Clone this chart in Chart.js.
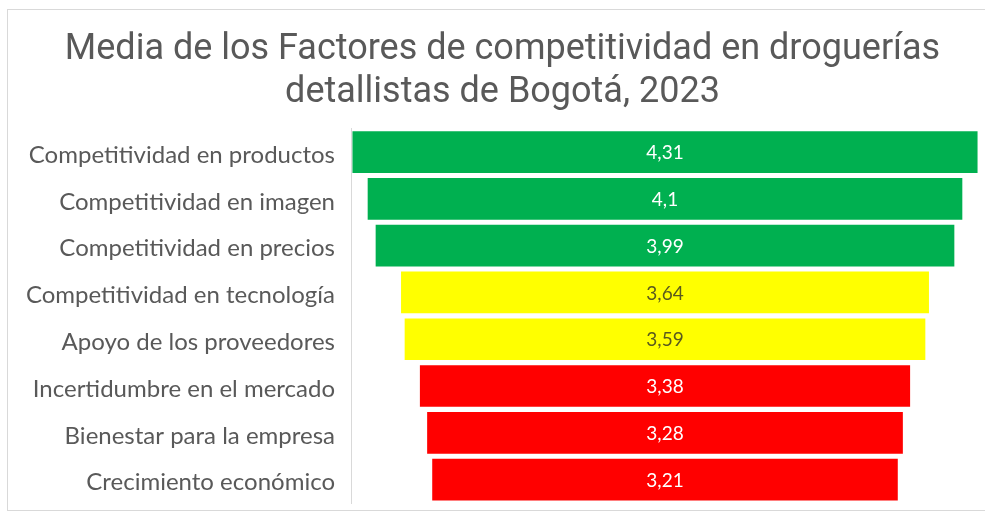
<!DOCTYPE html>
<html lang="es">
<head>
  <meta charset="UTF-8">
  <title>Factores de competitividad - droguerías Bogotá 2023</title>
  <style>
    body {
      margin: 0;
      background: #ffffff;
    }
    .frame {
      position: absolute;
      left: 7px;
      top: 9px;
      width: 990px;
      height: 500px;
      border: 1px solid #d9d9d9;
    }
    .wrap {
      position: absolute;
      left: 0;
      top: 0;
      width: 985px;
      height: 513px;
    }
  </style>
</head>
<body>
  <div class="frame"></div>
  <div class="wrap"><canvas id="funnel"></canvas></div>

  <script src="https://cdn.jsdelivr.net/npm/chart.js"></script>
  <script>
    // Factores y su media
    const factores = [
      'Competitividad en productos',
      'Competitividad en imagen',
      'Competitividad en precios',
      'Competitividad en tecnología',
      'Apoyo de los proveedores',
      'Incertidumbre en el mercado',
      'Bienestar para la empresa',
      'Crecimiento económico'
    ];
    const medias = [4.31, 4.1, 3.99, 3.64, 3.59, 3.38, 3.28, 3.21];
    const colores = ['#00b050', '#00b050', '#00b050', '#ffff00', '#ffff00', '#ff0000', '#ff0000', '#ff0000'];
    const coloresTexto = ['#ffffff', '#ffffff', '#ffffff', '#5a5a1e', '#5a5a1e', '#ffffff', '#ffffff', '#ffffff'];

    // embudo: cada barra centrada en cero
    const mitad = Math.max(...medias) / 2;
    const tramos = medias.map(v => [-v / 2, v / 2]);

    // escribe el valor en el centro de cada barra
    const etiquetasValor = {
      id: 'etiquetasValor',
      afterDatasetsDraw(chart) {
        const ctx = chart.ctx;
        const meta = chart.getDatasetMeta(0);
        const x0 = chart.scales.x.getPixelForValue(0);
        ctx.save();
        ctx.font = '19px Lato';
        ctx.textAlign = 'center';
        ctx.textBaseline = 'middle';
        meta.data.forEach((bar, i) => {
          ctx.fillStyle = coloresTexto[i];
          ctx.fillText(String(medias[i]).replace('.', ','), x0, bar.y + 1);
        });
        ctx.restore();
      }
    };

    new Chart(document.getElementById('funnel'), {
      type: 'bar',
      data: {
        labels: factores,
        datasets: [{
          data: tramos,
          backgroundColor: colores,
          borderWidth: 0,
          categoryPercentage: 1,
          barPercentage: 0.89
        }]
      },
      options: {
        indexAxis: 'y',
        responsive: true,
        maintainAspectRatio: false,
        animation: false,
        layout: {
          padding: { top: 29, right: 6, bottom: 10, left: 26 }
        },
        plugins: {
          legend: { display: false },
          tooltip: { enabled: false },
          title: {
            display: true,
            text: ['Media de los Factores de competitividad en droguerías', 'detallistas de Bogotá, 2023'],
            color: '#595959',
            font: { family: 'Roboto', size: 36, weight: 'normal', lineHeight: 1.19 },
            padding: { top: 0, bottom: 14 }
          }
        },
        scales: {
          x: {
            min: -mitad - 0.01,
            max: mitad + 0.01,
            display: false
          },
          y: {
            grid: { display: false },
            border: { color: '#d9d9d9', width: 1 },
            ticks: {
              color: '#595959',
              font: { family: 'Lato', size: 24 },
              padding: 8,
              labelOffset: 3
            },
            afterFit(scale) {
              // ancho fijo para las etiquetas y sin relleno extra arriba/abajo
              scale.width = 325;
              scale.paddingTop = 0;
              scale.paddingBottom = 0;
            }
          }
        }
      },
      plugins: [etiquetasValor]
    });
  </script>
</body>
</html>
